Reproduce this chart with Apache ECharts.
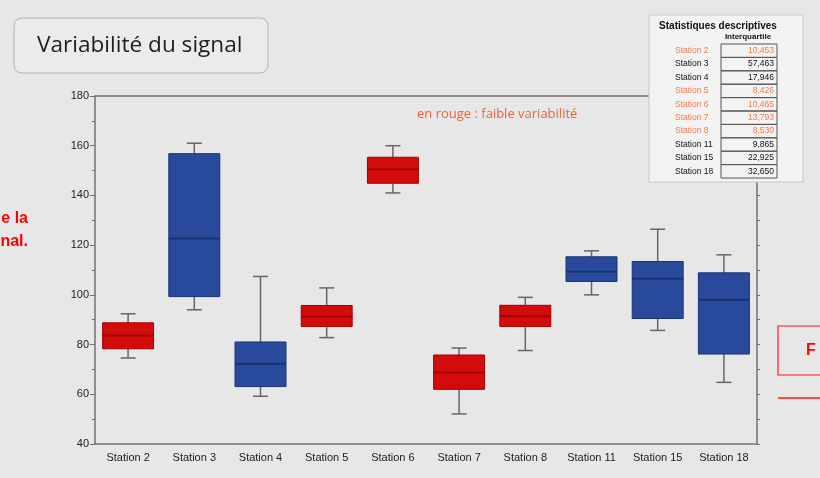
<!DOCTYPE html>
<html>
<head>
<meta charset="utf-8">
<script src="https://cdn.jsdelivr.net/npm/echarts@6/dist/echarts.min.js"></script>
<style>
html,body{margin:0;padding:0;background:#e7e7e7;}
#c{width:820px;height:478px;}
</style>
</head>
<body>
<div id="c"></div>
<script>
// ---- data ----
const categories = ['Station 2','Station 3','Station 4','Station 5','Station 6','Station 7','Station 8','Station 11','Station 15','Station 18'];
const whiskerLow  = [74.6, 94.0, 59.2, 82.8, 141.0, 52.1, 77.6, 100.0, 85.7, 64.8];
const q1          = [78.3, 99.3, 63.1, 87.3, 144.9, 62.0, 87.3, 105.4, 90.5, 76.2];
const median      = [83.6, 122.7, 72.3, 91.3, 150.5, 68.8, 91.4, 109.3, 106.5, 98.0];
const q3          = [88.75, 156.8, 81.05, 95.7, 155.35, 75.8, 95.8, 115.3, 113.4, 108.85];
const whiskerHigh = [92.4, 161.0, 107.4, 102.8, 160.0, 78.6, 99.0, 117.7, 126.4, 116.1];
const lowVariability = [true, false, false, true, true, true, true, false, false, false];
const interquartileLabels = ['10,453','57,463','17,946','8,426','10,465','13,793','8,530','9,865','22,925','32,650'];
const yTicks = [40, 60, 80, 100, 120, 140, 160, 180];

const RED = '#d30b0b', RED_D = '#a00000', BLUE = '#294a9c', BLUE_D = '#1a3273';
const WHISK = '#6e6262', AXIS = '#7a6f6f';

const seriesData = categories.map((c, i) => [i, whiskerLow[i], q1[i], median[i], q3[i], whiskerHigh[i], lowVariability[i] ? 1 : 0]);

function renderItem(params, api) {
  const x = api.value(0);
  const pLo = api.coord([x, api.value(1)]);
  const pQ1 = api.coord([x, api.value(2)]);
  const pMed = api.coord([x, api.value(3)]);
  const pQ3 = api.coord([x, api.value(4)]);
  const pHi = api.coord([x, api.value(5)]);
  const red = api.value(6) === 1;
  const band = api.size([1, 0])[0];
  const bw = band * 0.77;
  const cw = 15;
  const cx = pQ1[0];
  const ws = {stroke: WHISK, lineWidth: 1.5};
  return {
    type: 'group',
    children: [
      {type: 'line', shape: {x1: cx, y1: pHi[1], x2: cx, y2: pQ3[1]}, style: ws},
      {type: 'line', shape: {x1: cx, y1: pLo[1], x2: cx, y2: pQ1[1]}, style: ws},
      {type: 'line', shape: {x1: cx - cw/2, y1: pHi[1], x2: cx + cw/2, y2: pHi[1]}, style: ws},
      {type: 'line', shape: {x1: cx - cw/2, y1: pLo[1], x2: cx + cw/2, y2: pLo[1]}, style: ws},
      {type: 'rect', shape: {x: cx - bw/2, y: pQ3[1], width: bw, height: pQ1[1] - pQ3[1]},
        style: {fill: red ? RED : BLUE, stroke: red ? RED_D : BLUE_D, lineWidth: 1}},
      {type: 'line', shape: {x1: cx - bw/2, y1: pMed[1], x2: cx + bw/2, y2: pMed[1]},
        style: {stroke: red ? RED_D : BLUE_D, lineWidth: 2}}
    ]
  };
}

// table graphic
const tbl = [];
const tx = 649, ty = 15, tw = 154, th = 167;
tbl.push({type: 'rect', shape: {x: tx, y: ty, width: tw, height: th}, style: {fill: '#f3f3f3', stroke: '#c8c8c8', lineWidth: 1}, z: 100});
tbl.push({type: 'text', x: 718, y: 26, style: {text: 'Statistiques descriptives', font: 'bold 10px "Liberation Sans", Arial', fill: '#111', align: 'center', verticalAlign: 'middle'}, z: 101});
tbl.push({type: 'text', x: 748, y: 37, style: {text: 'Interquartile', font: 'bold 8px "Liberation Sans", Arial', fill: '#111', align: 'center', verticalAlign: 'middle'}, z: 101});
const rowTop = 44, rowH = 13.4, cellL = 721, cellR = 777;
categories.forEach((c, i) => {
  const col = lowVariability[i] ? '#ef7b4f' : '#111';
  const y = rowTop + i * rowH;
  tbl.push({type: 'rect', shape: {x: cellL, y: y, width: cellR - cellL, height: rowH}, style: {fill: 'none', stroke: '#555', lineWidth: 1}, z: 101});
  tbl.push({type: 'text', x: 675, y: y + rowH/2, style: {text: c, font: '8.5px "Liberation Sans", Arial', fill: col, align: 'left', verticalAlign: 'middle'}, z: 101});
  tbl.push({type: 'text', x: cellR - 3, y: y + rowH/2, style: {text: interquartileLabels[i], font: '8.5px "Liberation Sans", Arial', fill: col, align: 'right', verticalAlign: 'middle'}, z: 101});
});

const option = {
  backgroundColor: '#e7e7e7',
  animation: false,
  grid: {left: 95, right: 63, top: 96, bottom: 34, show: false},
  xAxis: [
    {type: 'category', data: categories, boundaryGap: true, position: 'bottom',
      axisLine: {lineStyle: {color: AXIS, width: 1.5}},
      axisTick: {alignWithLabel: true, length: 4, lineStyle: {color: AXIS}},
      axisLabel: {color: '#222', fontSize: 11, fontFamily: '"Liberation Sans", Arial', margin: 8}},
    {type: 'category', data: categories, boundaryGap: true, position: 'top',
      axisLine: {lineStyle: {color: AXIS, width: 1.5}},
      axisTick: {alignWithLabel: true, length: 3, inside: true, lineStyle: {color: AXIS}},
      axisLabel: {show: false}}
  ],
  yAxis: [
    {type: 'value', min: yTicks[0], max: yTicks[yTicks.length-1], interval: 20, position: 'left',
      axisLine: {show: true, lineStyle: {color: AXIS, width: 1.5}},
      axisTick: {show: true, length: 5, lineStyle: {color: AXIS}},
      minorTick: {show: true, splitNumber: 2, length: 3, lineStyle: {color: AXIS}},
      splitLine: {show: false},
      axisLabel: {color: '#222', fontSize: 11, fontFamily: '"Liberation Sans", Arial', margin: 6}},
    {type: 'value', min: yTicks[0], max: yTicks[yTicks.length-1], interval: 10, position: 'right',
      axisLine: {show: true, lineStyle: {color: AXIS, width: 1.5}},
      axisTick: {show: true, length: 3, lineStyle: {color: AXIS}},
      splitLine: {show: false},
      axisLabel: {show: false}}
  ],
  series: [{
    type: 'custom',
    renderItem: renderItem,
    xAxisIndex: 0, yAxisIndex: 0,
    encode: {x: 0, y: [1, 2, 3, 4, 5]},
    data: seriesData,
    z: 5
  }],
  graphic: [
    {type: 'rect', shape: {x: 14, y: 18, width: 254, height: 55, r: 8}, style: {fill: '#ebebeb', stroke: '#b4b4b4', lineWidth: 1}},
    {type: 'text', x: 37, y: 46, style: {text: 'Variabilité du signal', font: '22.6px "Open Sans", "Noto Sans", sans-serif', fill: '#1e1e1e', verticalAlign: 'middle'}},
    {type: 'text', x: 417, y: 114, style: {text: 'en rouge : faible variabilité', font: '13px "Open Sans", "Noto Sans", sans-serif', fill: '#e8643a', verticalAlign: 'middle'}},
    {type: 'text', x: 28, y: 219, style: {text: 'e la', font: 'bold 16px "Liberation Sans", Arial', fill: '#ff0000', align: 'right', verticalAlign: 'middle'}},
    {type: 'text', x: 28, y: 242, style: {text: 'nal.', font: 'bold 16px "Liberation Sans", Arial', fill: '#ff0000', align: 'right', verticalAlign: 'middle'}},
    {type: 'rect', shape: {x: 778, y: 326, width: 60, height: 49}, style: {fill: 'none', stroke: '#ff1a1a', lineWidth: 1.2}},
    {type: 'text', x: 806, y: 351, style: {text: 'F', font: 'bold 16px "Liberation Sans", Arial', fill: '#ff0000', verticalAlign: 'middle'}},
    {type: 'line', shape: {x1: 778, y1: 398, x2: 820, y2: 398}, style: {stroke: '#ff1a1a', lineWidth: 1.5}}
  ].concat(tbl)
};

const chart = echarts.init(document.getElementById('c'), null, {renderer: 'canvas'});
chart.setOption(option);
</script>
</body>
</html>
